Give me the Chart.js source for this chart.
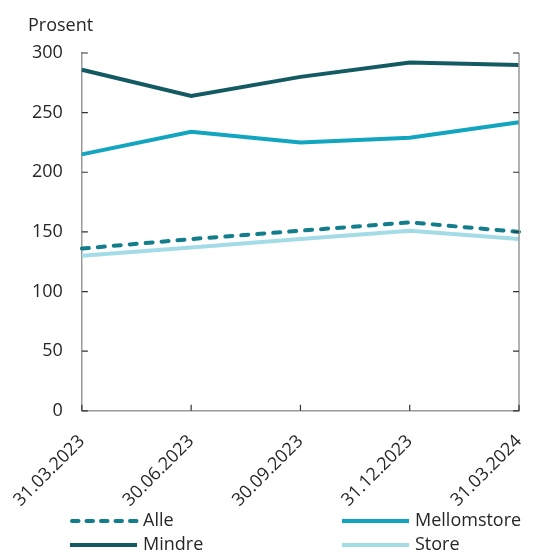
<!DOCTYPE html>
<html>
<head>
<meta charset="utf-8">
<script src="https://cdn.jsdelivr.net/npm/chart.js@4"></script>
<style>
  html, body { margin: 0; padding: 0; background: #fff; }
  #wrap { width: 537px; height: 552px; position: relative; }
</style>
</head>
<body>
<div id="wrap"><canvas id="c" width="537" height="552"></canvas></div>
<script>
const categories = ['31.03.2023', '30.06.2023', '30.09.2023', '31.12.2023', '31.03.2024'];
const alle        = [136, 144, 151, 158, 150];
const mellomstore = [215, 234, 225, 229, 242];
const mindre      = [286, 264, 280, 292, 290];
const store       = [130, 137, 144, 151, 144];
const yTicks = [0, 50, 100, 150, 200, 250, 300];
const yTitle = 'Prosent';

const FONT = 'Open Sans';
const FS = 18;
const TXT = '#262626';

const datasets = [
  { label: 'Alle', data: alle, borderColor: '#137d8c', borderDash: [7, 9], borderCapStyle: 'round' },
  { label: 'Mellomstore', data: mellomstore, borderColor: '#12a5bf' },
  { label: 'Mindre', data: mindre, borderColor: '#145a63' },
  { label: 'Store', data: store, borderColor: '#a3dce6' }
].map(d => Object.assign({ borderWidth: 4, pointRadius: 0, fill: false, tension: 0, borderCapStyle: d.borderCapStyle || 'butt' }, d));

const extras = {
  id: 'extras',
  afterDraw(chart) {
    const ctx = chart.ctx;
    const a = chart.chartArea;
    const x = chart.scales.x, y = chart.scales.y;
    ctx.save();
    // right border
    ctx.strokeStyle = '#999';
    ctx.lineWidth = 1.5;
    ctx.beginPath();
    ctx.moveTo(a.right, y.getPixelForValue(300));
    ctx.lineTo(a.right, a.bottom);
    ctx.stroke();
    // inward ticks
    ctx.strokeStyle = '#333';
    ctx.lineWidth = 1.2;
    yTicks.forEach(v => {
      const py = y.getPixelForValue(v);
      ctx.beginPath();
      ctx.moveTo(a.left, py); ctx.lineTo(a.left + 6, py);
      ctx.moveTo(a.right, py); ctx.lineTo(a.right - 6, py);
      ctx.stroke();
    });
    categories.forEach((c, i) => {
      const px = x.getPixelForValue(i);
      ctx.beginPath();
      ctx.moveTo(px, a.bottom); ctx.lineTo(px, a.bottom - 6);
      ctx.stroke();
    });
    // title
    ctx.fillStyle = TXT;
    ctx.font = FS + 'px "' + FONT + '"';
    ctx.textAlign = 'left';
    ctx.textBaseline = 'middle';
    ctx.fillText(yTitle, 28, 26);
    // legend
    const pos = [
      { lx: 70, ly: 521 }, { lx: 342, ly: 521 },
      { lx: 70, ly: 545 }, { lx: 342, ly: 545 }
    ];
    chart.data.datasets.forEach((d, i) => {
      const p = pos[i];
      ctx.strokeStyle = d.borderColor;
      ctx.lineWidth = 4;
      ctx.lineCap = d.borderDash ? 'round' : 'butt';
      ctx.setLineDash(d.borderDash ? [6.5, 8] : []);
      ctx.beginPath();
      ctx.moveTo(p.lx + (d.borderDash ? 2 : 0), p.ly);
      ctx.lineTo(p.lx + 67, p.ly);
      ctx.stroke();
      ctx.setLineDash([]);
      ctx.fillStyle = TXT;
      ctx.fillText(d.label, p.lx + 73, p.ly);
    });
    ctx.restore();
  }
};

new Chart(document.getElementById('c'), {
  type: 'line',
  data: { labels: categories, datasets },
  options: {
    responsive: false,
    animation: false,
    layout: { padding: { top: 53, right: 18, bottom: 21, left: 13 } },
    plugins: { legend: { display: false }, tooltip: { enabled: false } },
    scales: {
      x: {
        offset: false,
        afterFit(scale) { scale.paddingRight = 0; scale.paddingLeft = 0; },
        grid: { display: true, drawOnChartArea: false, drawTicks: false },
        border: { display: true, color: '#999', width: 1.5 },
        ticks: { color: TXT, font: { family: FONT, size: FS }, maxRotation: 45, minRotation: 45, padding: 20, autoSkip: false }
      },
      y: {
        min: 0, max: 300,
        grid: { display: true, drawOnChartArea: false, drawTicks: false },
        border: { display: true, color: '#999', width: 1.5 },
        ticks: { color: TXT, font: { family: FONT, size: FS }, stepSize: 50, padding: 19 }
      }
    }
  },
  plugins: [extras]
});
</script>
</body>
</html>
